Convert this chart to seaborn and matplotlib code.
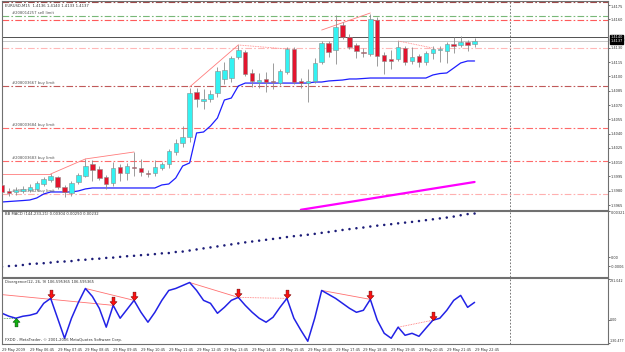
import numpy as np
import pandas as pd
import matplotlib
matplotlib.use("Agg")
import matplotlib.pyplot as plt
import seaborn as sns
from matplotlib.path import Path

sns.set_style("white")
plt.rcParams['font.family'] = ['DejaVu Sans']

# ---------------- data ----------------
opens = [1.3986, 1.3980, 1.3979, 1.3980, 1.3981, 1.3982, 1.3987, 1.3991, 1.3994, 1.3984,
         1.3978, 1.3989, 1.3996, 1.4008, 1.4003, 1.3994, 1.3988, 1.4005, 1.3999, 1.4005,
         1.4004, 1.3999, 1.3999, 1.4004, 1.4008, 1.4021, 1.4030, 1.4036, 1.4084, 1.4074,
         1.4076, 1.4083, 1.4097, 1.4098, 1.4120, 1.4126, 1.4104, 1.4094, 1.4097, 1.4095,
         1.4093, 1.4105, 1.4129, 1.4095, 1.4093, 1.4095, 1.4115, 1.4135, 1.4128, 1.4154,
         1.4141, 1.4133, 1.4126, 1.4124, 1.4159, 1.4123, 1.4118, 1.4118, 1.4130, 1.4116,
         1.4122, 1.4115, 1.4125, 1.4128, 1.4127, 1.4134, 1.4133, 1.4136, 1.4134]
closes = [1.3979, 1.3978, 1.3981, 1.3982, 1.3984, 1.3988, 1.3992, 1.3995, 1.3984, 1.3979,
          1.3988, 1.3997, 1.4006, 1.4002, 1.3993, 1.3987, 1.4004, 1.3999, 1.4006, 1.4004,
          1.4000, 1.3998, 1.4005, 1.4008, 1.4022, 1.4030, 1.4036, 1.4083, 1.4076, 1.4076,
          1.4082, 1.4106, 1.4107, 1.4119, 1.4128, 1.4103, 1.4095, 1.4096, 1.4094, 1.4094,
          1.4106, 1.4129, 1.4094, 1.4093, 1.4095, 1.4114, 1.4135, 1.4126, 1.4152, 1.4141,
          1.4131, 1.4127, 1.4125, 1.4160, 1.4122, 1.4116, 1.4116, 1.4131, 1.4115, 1.4120,
          1.4115, 1.4125, 1.4129, 1.4129, 1.4134, 1.4132, 1.4136, 1.4133, 1.4137]
highs = [1.3988, 1.3983, 1.3984, 1.3985, 1.3987, 1.3990, 1.3994, 1.3998, 1.3996, 1.3986,
         1.3990, 1.3999, 1.4013, 1.4012, 1.4006, 1.3997, 1.4010, 1.4008, 1.4009, 1.4021,
         1.4013, 1.4002, 1.4012, 1.4010, 1.4024, 1.4034, 1.4048, 1.4088, 1.4088, 1.4087,
         1.4086, 1.4110, 1.4115, 1.4122, 1.4133, 1.4128, 1.4108, 1.4104, 1.4105, 1.4114,
         1.4108, 1.4131, 1.4131, 1.4098, 1.4108, 1.4119, 1.4137, 1.4137, 1.4165, 1.4157,
         1.4145, 1.4135, 1.4130, 1.4166, 1.4162, 1.4126, 1.4128, 1.4137, 1.4132, 1.4131,
         1.4124, 1.4127, 1.4132, 1.4132, 1.4136, 1.4142, 1.4143, 1.4138, 1.4140]
lows = [1.3977, 1.3975, 1.3976, 1.3978, 1.3979, 1.3980, 1.3985, 1.3989, 1.3982, 1.3973,
        1.3975, 1.3987, 1.3994, 1.3990, 1.3991, 1.3982, 1.3985, 1.3990, 1.3991, 1.3996,
        1.3996, 1.3994, 1.3996, 1.4002, 1.4004, 1.4018, 1.4026, 1.4031, 1.4068, 1.4066,
        1.4073, 1.4078, 1.4092, 1.4094, 1.4118, 1.4101, 1.4089, 1.4088, 1.4084, 1.4087,
        1.4091, 1.4103, 1.4092, 1.4088, 1.4073, 1.4093, 1.4113, 1.4121, 1.4113, 1.4139,
        1.4129, 1.4119, 1.4121, 1.4122, 1.4111, 1.4103, 1.4108, 1.4116, 1.4112, 1.4113,
        1.4110, 1.4112, 1.4118, 1.4115, 1.4114, 1.4125, 1.4131, 1.4127, 1.4131]
support = [1.39682, 1.39687, 1.39692, 1.39697, 1.39703, 1.39724, 1.39766, 1.39787, 1.39787, 1.39787,
           1.39787, 1.39798, 1.39819, 1.39829, 1.39829, 1.39829, 1.39829, 1.39829, 1.39829, 1.39829,
           1.39829, 1.39829, 1.39829, 1.39861, 1.39871, 1.39934, 1.40060, 1.40092, 1.40407, 1.40417,
           1.40480, 1.40564, 1.40753, 1.40774, 1.40900, 1.40931, 1.40931, 1.40931, 1.40931, 1.40931,
           1.40931, 1.40931, 1.40931, 1.40931, 1.40931, 1.40942, 1.40942, 1.40953, 1.40958, 1.40963,
           1.40974, 1.40974, 1.40979, 1.40984, 1.40984, 1.40984, 1.40984, 1.40984, 1.40984, 1.40984,
           1.40984, 1.40984, 1.41016, 1.41031, 1.41037, 1.41089, 1.41142, 1.41163, 1.41163]
regression_bars = [43, 68]
regression_prices = [1.39600, 1.39892]

macd = [-0.000653, -0.000602, -0.000580, -0.000528, -0.000455, -0.000433, -0.000404, -0.000360,
        -0.000308, -0.000286, -0.000257, -0.000184, -0.000162, -0.000110, -0.000089, -0.000037,
        -0.000015, 0.000036, 0.000080, 0.000110, 0.000153, 0.000183, 0.000227, 0.000278,
        0.000300, 0.000373, 0.000403, 0.000476, 0.000549, 0.000623, 0.00069, 0.00076, 0.00083,
        0.00090, 0.00097, 0.00104, 0.00110, 0.00116, 0.00122, 0.00128, 0.00134, 0.00141,
        0.00147, 0.00152, 0.00157, 0.00163, 0.00170, 0.00176, 0.00183, 0.00190, 0.00196,
        0.00202, 0.00207, 0.00214, 0.00220, 0.00225, 0.00230, 0.00236, 0.00241, 0.00246,
        0.00252, 0.00258, 0.00264, 0.00270, 0.00276, 0.00283, 0.00292, 0.00300, 0.00304]

divergence = [36.4, 19.7, 8.6, 19.7, 25.3, 36.4, 92.0, 119.8, 8.6, -103.7,
              8.6, 97.5, 175.4, 130.9, 64.2, -41.5, 80.9, 8.6, 58.6, 108.7,
              41.9, -13.7, 41.9, 108.7, 164.3, 175.4, 192.1, 208.8, 164.3, 108.7,
              92.0, 36.4, 69.7, 108.7, 125.4, 80.9, 41.9, 8.6, -13.7, 14.1,
              69.7, 119.8, 8.6, -58.2, -120.4, 8.6, 164.3, 142.0, 119.8, 92.0,
              64.2, 41.9, 53.0, 114.2, -2.6, -75.9, -103.7, -41.5, -87.0, -75.9,
              -92.6, -47.1, -2.6, 8.6, 53.0, 108.7, 136.5, 69.7, 97.5]
sell_arrow_bars = [7, 16, 19, 34, 41, 53, 62]
buy_arrow_bars = [2]

# trend lines on price  (bar0, price0, bar1, price1, dotted)
price_trend = [(-0.3, 1.39976, 7, 1.39976, False), (7, 1.39976, 12, 1.40134, False),
               (12, 1.40134, 19, 1.40207, False), (27, 1.40890, 34, 1.41331, False),
               (34, 1.41331, 41, 1.41289, True), (46, 1.41488, 53, 1.41667, False),
               (57, 1.41373, 62, 1.41299, True)]
div_trend = [(-0.3, 142.0, 16, 80.9, False), (12, 175.4, 19, 108.7, False),
             (27, 208.8, 34, 125.4, False), (34, 125.4, 41, 119.8, True),
             (46, 164.3, 53, 114.2, False), (57, -41.5, 62, -2.6, True)]

# horizontal order lines
order_prices = [1.41787, 1.41635, 1.41593, 1.41299, 1.40900, 1.40459, 1.40113, 1.39766]
order_colors = ['#A04848', '#78B878', '#FF5A5A', '#FFB8B8', '#C05A5A', '#FF6A6A', '#FF6A6A', '#FFB0B0']
order_labels = [(1.41635, "#208014257 sell limit"), (1.40900, "#208003667 buy limit"),
                (1.40459, "#208003684 buy limit"), (1.40113, "#208003683 buy limit"),
                (1.39766, "#208003682 buy limit")]
ask_price, bid_price = 1.4141, 1.4137

price_ticks = [1.4175, 1.4160, 1.4130, 1.4115, 1.4100, 1.4085, 1.4070, 1.4055,
               1.4040, 1.4025, 1.4010, 1.3995, 1.3980, 1.3965]
macd_ticks = [0.00321, 0.0, -0.0006]
macd_tick_labels = ["0.00321", "0.00", "-0.0006"]
div_ticks = [231.042, 0.0, -130.477]
div_tick_labels = ["231.042", "0.00", "-130.477"]
time_tick_bars = [0, 4, 8, 12, 16, 20, 24, 28, 32, 36, 40, 44, 48, 52, 56, 60, 64, 68]
time_labels = ["29 May 2009", "29 May 06:45", "29 May 07:45", "29 May 08:45", "29 May 09:45",
               "29 May 10:45", "29 May 11:45", "29 May 12:45", "29 May 13:45", "29 May 14:45",
               "29 May 15:45", "29 May 16:45", "29 May 17:45", "29 May 18:45", "29 May 19:45",
               "29 May 20:45", "29 May 21:45", "29 May 22:45"]
separator_bar = 73.1

df = pd.DataFrame({"bar": np.arange(len(opens)), "open": opens, "high": highs,
                   "low": lows, "close": closes, "support": support,
                   "macd": macd, "div": divergence})

# ---------------- figure ----------------
W, H = 625, 352
fig = plt.figure(figsize=(W / 100, H / 100), dpi=100)
fig.patch.set_facecolor('white')
L, R = 2 / W, 608 / W
ax = fig.add_axes([L, (H - 209.5) / H, R - L, 208.5 / H])
axm = fig.add_axes([L, (H - 277) / H, R - L, 66.5 / H])
axd = fig.add_axes([L, (H - 343.5) / H, R - L, 65.5 / H])
XL = (0.0, 87.2)
FS = 2.7
RFS = 2.55
GRAY = '#8C8C8C'

for a in (ax, axm, axd):
    a.set_xlim(*XL)
    a.set_facecolor('white')
    for s in a.spines.values():
        s.set_color('#707070')
        s.set_linewidth(0.8)
    a.yaxis.tick_right()
    a.tick_params(axis='y', labelsize=RFS, length=1.5, width=0.5, pad=0.6,
                  colors='#303030', direction='out')
    a.tick_params(axis='x', length=0, labelbottom=False)
    a.axvline(separator_bar, color='#606060', lw=0.6, ls=(0, (2, 2)))
    a.set_xlabel('')
    a.set_ylabel('')

# ---- main price panel ----
ax.set_ylim(1.39603, 1.41793)
dash_dot = (0, (6, 2, 1.5, 2))
for p, c in zip(order_prices, order_colors):
    ax.axhline(p, color=c, lw=0.8, ls=dash_dot)
ax.axhline(ask_price, color='#505050', lw=0.7)
ax.axhline(bid_price, color='#C8C8C8', lw=0.7)
for p, t in order_labels:
    ax.text(1.5, p + 0.00012, t, fontsize=FS, color='#505050', va='bottom', ha='left')
ax.text(0.4, 1.41745, "EURUSD,M15  1.4136 1.4140 1.4133 1.4137", fontsize=FS,
        color='#303030', va='center', ha='left')

for x0, y0, x1, y1, dotted in price_trend:
    ax.plot([x0, x1], [y0, y1], color='#FF7C7C', lw=0.6,
            ls=(0, (1, 1)) if dotted else '-')

sns.lineplot(data=df, x="bar", y="support", ax=ax, color='#1E1EFF', lw=0.9)
sns.lineplot(x=regression_bars, y=regression_prices, ax=ax, color='#FF00FF', lw=1.6)

for _, r in df.iterrows():
    up = r['close'] >= r['open']
    ax.vlines(r['bar'], r['low'], r['high'], color=GRAY, lw=0.6, zorder=3)
    lo = min(r['open'], r['close'])
    h = max(abs(r['close'] - r['open']), 0.000015)
    ax.bar(r['bar'], h, bottom=lo, width=0.64, color='#33F2F2' if up else '#E3142E',
           edgecolor=GRAY, lw=0.4, zorder=4)

ax.set_yticks(price_ticks)
ax.set_yticklabels([f"{p:.4f}" for p in price_ticks])
ax.get_yticklabels()[0].set_verticalalignment('top')
for p, t in [(ask_price, "1.4140"), (bid_price, "1.4137")]:
    ax.text(1.004, p, t, transform=ax.get_yaxis_transform(), fontsize=RFS, color='white',
            va='center', ha='left', clip_on=False,
            bbox=dict(boxstyle='square,pad=0.15', fc='black', ec='black'))
ax.set_xlabel('')
ax.set_ylabel('')

# ---- MACD panel ----
axm.set_ylim(-0.00136, 0.00325)
sns.scatterplot(data=df, x="bar", y="macd", ax=axm, color='#1C1C78', s=3.2,
                edgecolor='none', linewidth=0)
axm.set_yticks(macd_ticks)
axm.set_yticklabels(macd_tick_labels)
axm.get_yticklabels()[0].set_verticalalignment('top')
axm.text(0.4, 0.0030, "BB MACD (144,233,21) 0.00304 0.00290 0.00232", fontsize=FS,
         color='#303030', va='center', ha='left')
axm.set_xlabel('')
axm.set_ylabel('')

# ---- Divergence panel ----
axd.set_ylim(-133, 234)
for x0, y0, x1, y1, dotted in div_trend:
    axd.plot([x0, x1], [y0, y1], color='#FF7070', lw=0.6,
             ls=(0, (1, 1)) if dotted else '-')
axd.plot([-0.3, 2], [8.6, 8.6], color='#40A040', lw=0.6, ls=(0, (1, 1)))
sns.lineplot(data=df, x="bar", y="div", ax=axd, color='#2222E6', lw=1.1)

down_arrow = Path([(-0.17, 1.0), (0.17, 1.0), (0.17, 0.45), (0.42, 0.45), (0.0, 0.0),
                   (-0.42, 0.45), (-0.17, 0.45), (-0.17, 1.0)],
                  [1, 2, 2, 2, 2, 2, 2, 79])
up_arrow = Path([(-0.17, -1.0), (0.17, -1.0), (0.17, -0.45), (0.42, -0.45), (0.0, 0.0),
                 (-0.42, -0.45), (-0.17, -0.45), (-0.17, -1.0)],
                [1, 2, 2, 2, 2, 2, 2, 79])
sell_df = df[df['bar'].isin(sell_arrow_bars)]
buy_df = df[df['bar'].isin(buy_arrow_bars)]
axd.plot(sell_df['bar'], sell_df['div'], ls='none', marker=down_arrow, ms=12,
         mfc='#FF1010', mec='#7A0000', mew=0.4, zorder=5)
axd.plot(buy_df['bar'], buy_df['div'], ls='none', marker=up_arrow, ms=12,
         mfc='#10B010', mec='#005000', mew=0.4, zorder=5)
axd.set_yticks(div_ticks)
axd.set_yticklabels(div_tick_labels)
axd.tick_params(axis='y', labelsize=2.3, pad=0.4, length=1.2)
axd.get_yticklabels()[0].set_verticalalignment('top')
axd.get_yticklabels()[-1].set_verticalalignment('bottom')
axd.text(0.4, 212, "Divergence(12, 26, 9) 106.595365 106.595365", fontsize=FS,
         color='#303030', va='center', ha='left')
axd.text(0.4, -113, "FXDD - MetaTrader, \u00a9 2001-2006 MetaQuotes Software Corp.",
         fontsize=FS, color='#303030', va='center', ha='left')
axd.set_xticks(time_tick_bars)
axd.set_xticklabels(time_labels)
axd.tick_params(axis='x', labelbottom=True, labelsize=2.5, length=2, width=0.5,
                pad=1, colors='#303030')
for lbl in axd.get_xticklabels():
    lbl.set_horizontalalignment('left')
axd.set_xlabel('')
axd.set_ylabel('')

fig.savefig("out.png", dpi=100, facecolor='white')
